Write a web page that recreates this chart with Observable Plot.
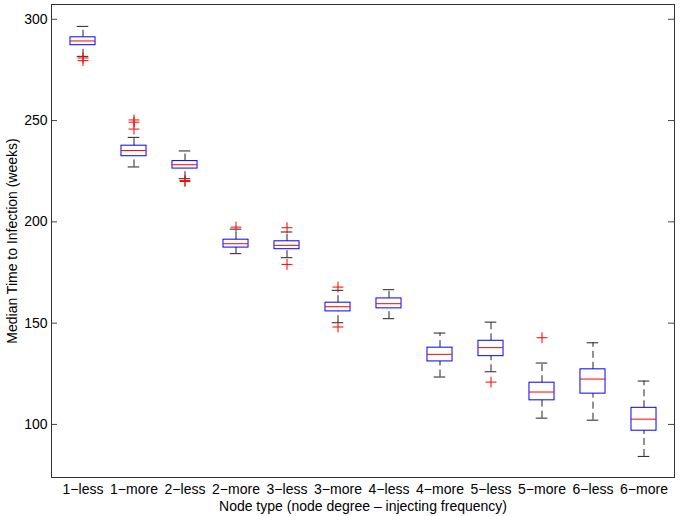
<!DOCTYPE html>
<html><head><meta charset="utf-8">
<script src="https://cdn.jsdelivr.net/npm/d3@7"></script>
<script src="https://cdn.jsdelivr.net/npm/@observablehq/plot@0.6"></script>
<style>body{margin:0;background:#fff}</style>
</head><body><div id="chart"></div>
<script>
const categories = ["1−less","1−more","2−less","2−more","3−less","3−more","4−less","4−more","5−less","5−more","6−less","6−more"];
const lowerWhisker = [281.7,227.1,221.3,184.3,182.3,150.2,152.2,123.4,126.0,103.1,102.1,84.2];
const q1Values     = [287.2,232.4,226.3,187.3,186.5,155.8,157.3,131.1,133.7,111.9,115.2,96.9];
const medianValues = [289.3,235.2,228.2,189.2,188.4,158.1,159.6,134.6,137.9,116.0,122.4,102.6];
const q3Values     = [291.1,237.6,230.0,191.2,190.4,160.1,162.2,137.9,141.3,120.6,127.2,108.2];
const upperWhisker = [296.5,241.7,235.0,196.4,195.0,166.2,166.5,145.1,150.5,130.3,140.3,121.4];
const outlierCategories = ["1−less","1−less","1−more","1−more","1−more","2−less","2−less","2−more","3−less","3−less","3−more","3−more","5−less","5−more"];
const outlierValues     = [280.9,279.6,250.3,249.2,245.8,220.4,219.9,197.4,197.1,179.0,167.8,148.1,120.9,142.8];
const yTicks = [100,150,200,250,300];
const yLabel = "Median Time to Infection (weeks)";
const xLabel = "Node type (node degree – injecting frequency)";

const boxes = categories.map((c,i)=>({c, lo: lowerWhisker[i], q1: q1Values[i], med: medianValues[i], q3: q3Values[i], hi: upperWhisker[i]}));
const outliers = outlierCategories.map((c,i)=>({c, v: outlierValues[i]}));

const W = 680, H = 516, mL = 51, mR = 6, mT = 4, mB = 39;
const band = (W - mL - mR) / categories.length;
const boxInset = band * 0.25;
const capInset = band * 0.38;
const innerW = W - mL - mR;

const chart = Plot.plot({
  width: W, height: H,
  marginLeft: mL, marginRight: mR, marginTop: mT, marginBottom: mB,
  style: {fontFamily: "'Liberation Sans', Arial, sans-serif", fontSize: "14px", background: "#fff", color: "#000"},
  x: {domain: categories, padding: 0, tickSize: 0, tickPadding: 7, label: xLabel, labelAnchor: "center", labelOffset: 33, labelArrow: "none"},
  y: {domain: [73.8, 307.3], ticks: yTicks, tickSize: 0, tickPadding: 4, label: yLabel, labelAnchor: "center", labelOffset: 44, labelArrow: "none"},
  marks: [
    Plot.ruleX(boxes, {x: "c", y1: "q3", y2: "hi", stroke: "#222", strokeDasharray: "7,4"}),
    Plot.ruleX(boxes, {x: "c", y1: "lo", y2: "q1", stroke: "#222", strokeDasharray: "7,4"}),
    Plot.tickY(boxes, {x: "c", y: "hi", stroke: "#222", insetLeft: capInset, insetRight: capInset}),
    Plot.tickY(boxes, {x: "c", y: "lo", stroke: "#222", insetLeft: capInset, insetRight: capInset}),
    Plot.barY(boxes, {x: "c", y1: "q1", y2: "q3", fill: "none", stroke: "blue", insetLeft: boxInset, insetRight: boxInset}),
    Plot.tickY(boxes, {x: "c", y: "med", stroke: "red", insetLeft: boxInset, insetRight: boxInset}),
    Plot.dot(outliers, {x: "c", y: "v", symbol: "plus", r: 3.6, stroke: "red", strokeWidth: 1}),
    Plot.tickY(yTicks, {y: d => d, stroke: "#444", insetRight: innerW - 6}),
    Plot.tickY(yTicks, {y: d => d, stroke: "#444", insetLeft: innerW - 6}),
    Plot.frame({stroke: "#333"})
  ]
});
document.getElementById("chart").appendChild(chart);
</script>
</body></html>
